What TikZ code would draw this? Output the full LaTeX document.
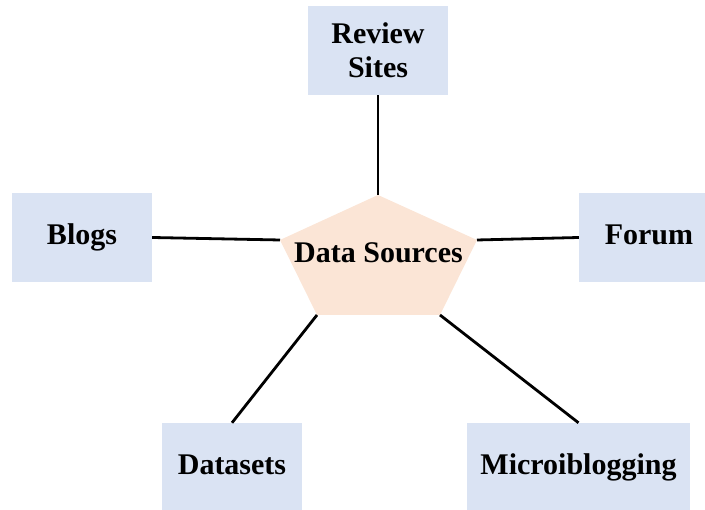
\documentclass[tikz,border=0pt]{standalone}
\usepackage{fontspec}
\setmainfont{Liberation Serif}
\definecolor{boxblue}{HTML}{DAE3F3}
\definecolor{pentfill}{HTML}{FBE5D6}
\begin{document}
\begin{tikzpicture}[x=1pt,y=1pt,
  srcbox/.style={rectangle, fill=boxblue, draw=none, minimum height=89pt, inner sep=0pt,
    font=\fontsize{30}{34}\selectfont\bfseries, text height=22pt, text depth=7pt},
  conn/.style={line width=2.8pt, black}]
\useasboundingbox (0,0) rectangle (705,510);
\begin{scope}
\clip (0,0) rectangle (705,510);
% boxes (y = 510 - pixel y)
\node[srcbox, minimum width=140pt, text height=, text depth=, align=center] (review) at (378,459.5) {Review\\Sites};
\node[srcbox, minimum width=140pt] (blogs) at (82,272.5) {Blogs};
\node[srcbox, minimum width=140pt] (forum) at (649,272.5) {Forum};
\node[srcbox, minimum width=140pt] (datasets) at (232,42.5) {Datasets};
\node[srcbox, minimum width=223pt] (micro) at (578.5,42.5) {Microiblogging};
% pentagon
\coordinate (ptop) at (378,315);
\coordinate (pleft) at (280,270);
\coordinate (pright) at (477,270);
\coordinate (pbl) at (317,195);
\coordinate (pbr) at (440,195);
\fill[pentfill] (ptop) -- (pright) -- (pbr) -- (pbl) -- (pleft) -- cycle;
\node[font=\fontsize{30}{34}\selectfont\bfseries, inner sep=0pt, anchor=base] (ds) at (378.5,247) {Data Sources};
% connectors
\draw[conn] (review.south) -- (ptop);
\draw[conn] (blogs.east) -- (pleft);
\draw[conn] (pright) -- (forum.west);
\draw[conn] (pbl) -- (datasets.north);
\draw[conn] (pbr) -- (micro.north);
\end{scope}
\end{tikzpicture}
\end{document}
